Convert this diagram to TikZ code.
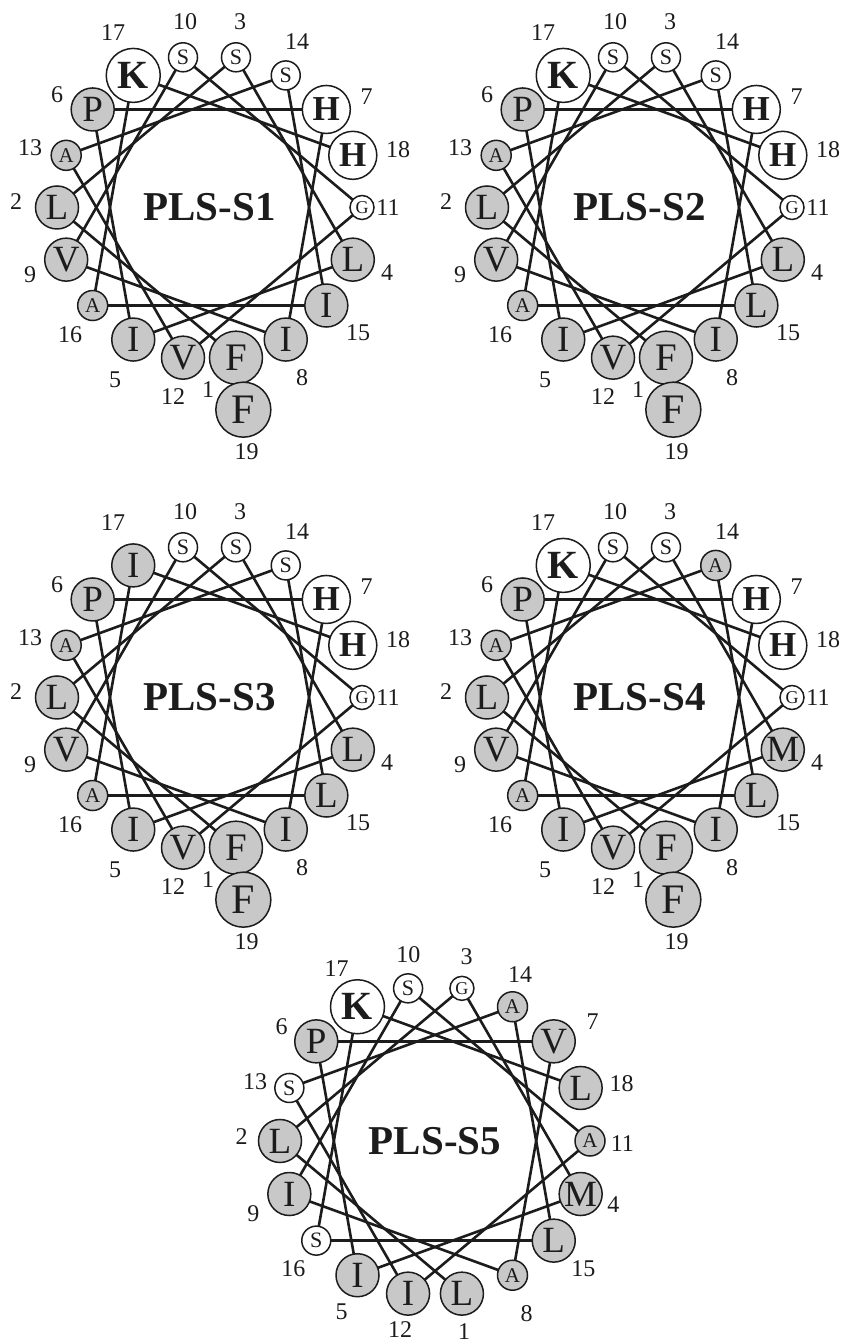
\documentclass[tikz,border=0pt]{standalone}
\usepackage{fontspec}
\setmainfont{Liberation Serif}
\usetikzlibrary{backgrounds}
\definecolor{resgray}{RGB}{200,200,200}
\definecolor{ink}{RGB}{28,28,28}
\tikzset{
  res/.style={circle, draw=ink, line width=1.5pt, inner sep=0pt, text=ink},
  resK/.style={res, fill=white, minimum size=54pt, font=\fontsize{40}{40}\selectfont\bfseries},
  resH/.style={res, fill=white, minimum size=48pt, font=\fontsize{35}{35}\selectfont\bfseries},
  hyd/.style={res, fill=resgray, minimum size=43pt, font=\fontsize{37}{37}\selectfont},
  resL/.style={hyd}, resI/.style={hyd}, resV/.style={hyd}, resP/.style={hyd}, resM/.style={hyd},
  resF/.style={res, fill=resgray, minimum size=53pt, font=\fontsize{39}{39}\selectfont},
  resFF/.style={res, fill=resgray, minimum size=55pt, font=\fontsize{42}{42}\selectfont},
  resS/.style={res, fill=white, minimum size=29pt, font=\fontsize{22}{22}\selectfont},
  resA/.style={res, fill=resgray, minimum size=30pt, font=\fontsize{21}{21}\selectfont},
  resG/.style={res, fill=white, minimum size=24pt, font=\fontsize{18}{18}\selectfont},
  helix/.style={draw=ink, line width=2.6pt},
  numlab/.style={inner sep=0pt, text=ink, font=\fontsize{24}{24}\selectfont},
  wtitle/.style={inner sep=0pt, text=ink, font=\fontsize{41}{41}\selectfont\bfseries},
}
\newcommand\labsA{1/-1.5/-182.5, 2/-193.5/5.8, 3/30.5/185.5, 4/177.5/-65.5, 5/-94.5/-172.5, 6/-152.5/112.5, 7/157.2/110.8, 8/92.5/-170.5, 9/-179.5/-67.5, 10/-24.5/185.5, 11/178.5/-0.5, 12/-36.5/-189.5, 13/-179.5/59.5, 14/87.5/165.5, 15/148.5/-125.5, 16/-139.5/-127.5, 17/-96.5/174.5, 18/188.5/57.5, 19/37.2/-244.5}
\newcommand\labsB{1/29/-190.5, 2/-193.3/4.3, 3/31.7/184.3, 4/178.3/-64, 5/-93.3/-170.7, 6/-153.3/114.3, 7/157.7/119.3, 8/91.7/-172.3, 9/-181.7/-72.3, 10/-26.7/186, 11/187.3/-2.3, 12/-35/-188.7, 13/-180/59.3, 14/85/166, 15/148.3/-127.3, 16/-141.7/-127.3, 17/-98.3/172.7, 18/186.7/57.7}
% #1 prefix, #2 cx, #3 cy, #4 radius, #5 residues, #6 title, #7 label list
\newcommand\hwheel[7]{%
  \begin{scope}[shift={(#2,#3)}]
    \node[wtitle] (#1t) at (0,0) {#6};
    \foreach \n/\l in {#5} {
      \ifnum\n=19
        \node[resFF] (#1n\n) at (-80.5:205) {\l};
      \else
        \node[res\l] (#1n\n) at ({-80-(\n-1)*100}:#4) {\l};
      \fi
    }
    \begin{pgfonlayer}{background}
      \foreach \n in {1,...,17} {
        \pgfmathtruncatemacro\m{\n+1}
        \draw[helix] (#1n\n.center) -- (#1n\m.center);
      }
    \end{pgfonlayer}
    \foreach \n/\lx/\ly in #7 {
      \node[numlab] (#1l\n) at (\lx,\ly) {\n};
    }
  \end{scope}}
\begin{document}
\begin{tikzpicture}[x=1pt, y=1pt]
  \useasboundingbox (0,0) rectangle (843,1344);
  \hwheel{a}{209.5}{1136.5}{152.5}{18/H,17/K,16/A,15/I,14/S,13/A,12/V,11/G,10/S,9/V,8/I,7/H,6/P,5/I,4/L,3/S,2/L,1/F,19/F}{PLS-S1}{\labsA}
  \hwheel{b}{639.5}{1136.5}{152.5}{18/H,17/K,16/A,15/L,14/S,13/A,12/V,11/G,10/S,9/V,8/I,7/H,6/P,5/I,4/L,3/S,2/L,1/F,19/F}{PLS-S2}{\labsA}
  \hwheel{c}{209.5}{646.5}{152.5}{18/H,17/I,16/A,15/L,14/S,13/A,12/V,11/G,10/S,9/V,8/I,7/H,6/P,5/I,4/L,3/S,2/L,1/F,19/F}{PLS-S3}{\labsA}
  \hwheel{d}{639.5}{646.5}{152.5}{18/H,17/K,16/A,15/L,14/A,13/A,12/V,11/G,10/S,9/V,8/I,7/H,6/P,5/I,4/M,3/S,2/L,1/F,19/F}{PLS-S4}{\labsA}
  \hwheel{e}{435}{203}{155}{18/L,17/K,16/S,15/L,14/A,13/S,12/I,11/A,10/S,9/I,8/A,7/V,6/P,5/I,4/M,3/G,2/L,1/L}{PLS-S5}{\labsB}
\end{tikzpicture}
\end{document}
